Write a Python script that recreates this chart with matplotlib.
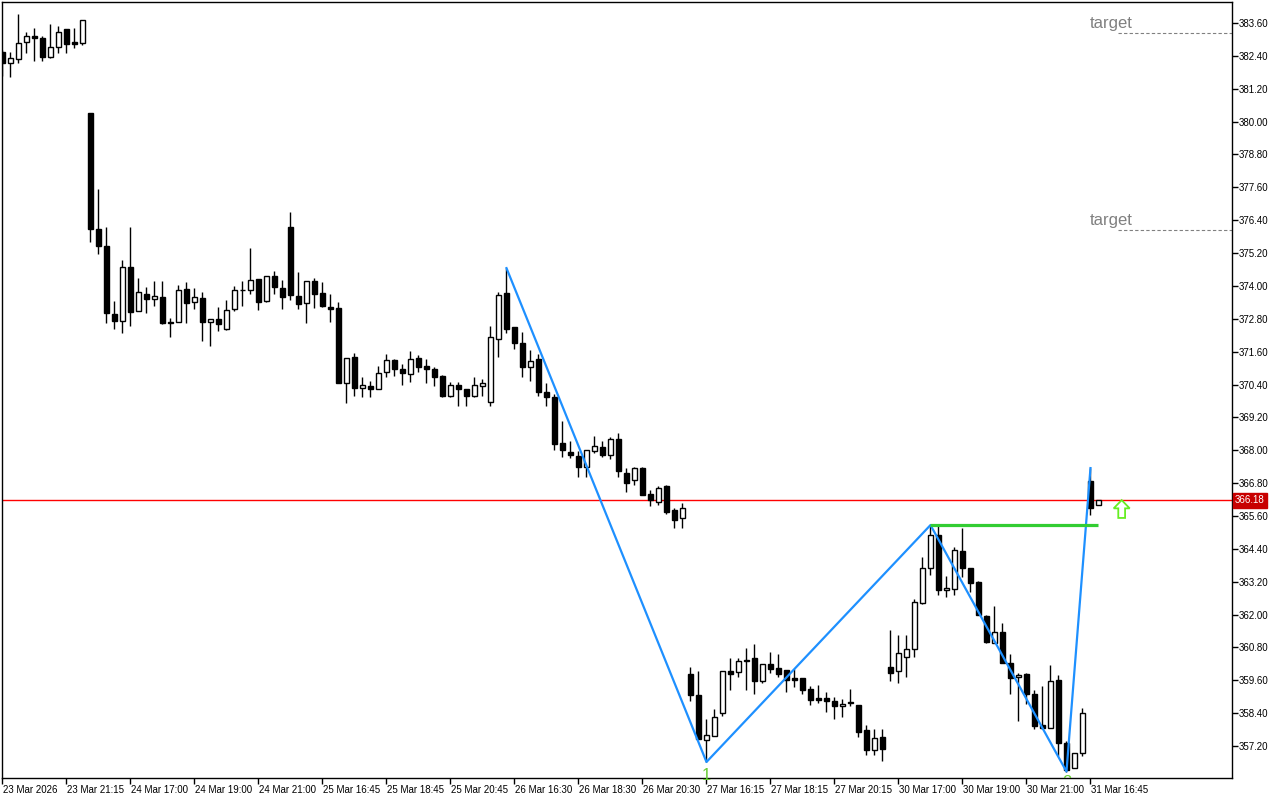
import matplotlib
matplotlib.use("Agg")
import matplotlib.pyplot as plt
import matplotlib.transforms as mtransforms
from matplotlib.patches import FancyArrow

# ---------------------------------------------------------------------------
# Datos (velas M15)
# ---------------------------------------------------------------------------
opens = [
    382.55, 382.13, 382.28, 382.92, 383.13, 383.04, 382.35, 382.71, 383.37, 382.91,
    382.88, 380.33, 376.07, 375.47, 372.98, 372.73, 374.70, 373.08, 373.71, 373.51,
    373.59, 372.70, 372.68, 373.88, 373.41, 373.55, 372.68, 372.79, 372.42, 373.15,
    373.86, 373.84, 374.26, 373.44, 374.35, 373.92, 376.14, 373.62, 373.37, 374.17,
    373.73, 373.22, 373.19, 370.45, 371.40, 370.29, 370.35, 370.23, 370.85, 371.30,
    370.96, 370.78, 371.36, 371.07, 370.96, 370.72, 369.99, 370.38, 370.23, 369.99,
    370.34, 369.78, 372.05, 373.73, 372.49, 371.91, 371.03, 371.32, 370.12, 369.94,
    368.26, 367.93, 367.78, 367.38, 367.97, 368.11, 367.82, 368.40, 367.16, 366.91,
    367.34, 366.40, 366.10, 366.69, 365.81, 365.51, 359.85, 359.07, 357.42, 357.56,
    358.40, 359.94, 359.90, 360.35, 360.41, 359.56, 360.19, 360.05, 359.97, 359.67,
    359.68, 359.28, 358.96, 358.96, 358.85, 358.65, 358.81, 358.70, 357.80, 357.04,
    357.53, 360.10, 359.94, 360.47, 360.74, 362.42, 363.70, 364.90, 362.90, 362.93,
    364.33, 363.70, 363.19, 361.96, 360.96, 361.35, 360.23, 359.74, 359.82, 359.10,
    357.98, 357.86, 359.62, 357.33, 356.39, 356.94, 366.89, 365.99,
]
highs = [
    382.60, 382.55, 383.93, 383.26, 383.41, 383.13, 383.56, 383.49, 383.37, 383.41,
    383.70, 380.33, 377.53, 376.16, 373.45, 374.95, 376.16, 374.28, 373.95, 374.18,
    374.18, 372.82, 374.03, 374.14, 373.92, 373.77, 372.79, 373.22, 373.49, 373.99,
    374.18, 375.40, 374.26, 374.35, 374.54, 374.21, 376.69, 374.50, 374.17, 374.28,
    374.14, 373.70, 373.41, 371.36, 371.54, 370.67, 370.52, 371.07, 371.51, 371.34,
    371.14, 371.63, 371.48, 371.32, 371.03, 370.74, 370.49, 370.49, 370.23, 370.67,
    370.60, 372.54, 373.77, 374.65, 372.49, 372.31, 371.65, 371.51, 370.45, 370.05,
    369.08, 368.35, 367.96, 368.00, 368.53, 368.33, 368.50, 368.63, 367.34, 367.38,
    367.38, 366.55, 366.68, 366.73, 365.89, 366.07, 360.07, 359.95, 358.19, 358.55,
    359.94, 360.41, 360.41, 360.78, 360.92, 360.19, 360.65, 360.56, 359.97, 360.03,
    359.68, 359.38, 359.44, 359.19, 359.01, 358.91, 359.28, 358.70, 357.98, 357.83,
    357.83, 361.44, 361.26, 361.26, 362.56, 364.10, 365.27, 365.22, 363.42, 364.46,
    365.16, 363.70, 363.24, 362.00, 362.30, 361.71, 360.56, 359.86, 359.86, 359.25,
    359.38, 360.17, 359.80, 357.37, 356.94, 358.59, 367.35, 366.18,
]
lows = [
    381.67, 381.64, 382.15, 382.52, 382.22, 382.22, 382.31, 382.52, 382.52, 382.70,
    382.80, 375.62, 375.17, 372.66, 372.43, 372.30, 372.55, 373.08, 373.00, 373.28,
    372.60, 372.15, 372.68, 372.64, 373.16, 372.00, 371.79, 372.37, 372.39, 373.08,
    373.28, 373.70, 373.12, 373.41, 373.72, 373.15, 373.48, 373.17, 372.64, 373.19,
    373.22, 372.68, 370.45, 369.72, 369.99, 369.96, 369.96, 370.23, 370.67, 370.70,
    370.40, 370.51, 370.84, 370.47, 370.35, 369.96, 369.96, 369.60, 369.60, 369.96,
    369.99, 369.60, 371.42, 372.30, 371.69, 370.69, 370.54, 369.99, 369.60, 368.00,
    367.75, 367.71, 367.04, 367.02, 367.89, 367.75, 367.70, 367.02, 366.49, 366.75,
    366.35, 365.98, 366.02, 365.69, 365.18, 365.18, 358.83, 357.46, 356.62, 357.56,
    358.29, 359.25, 359.72, 359.23, 359.10, 359.52, 359.86, 359.74, 359.19, 359.34,
    359.10, 358.71, 358.77, 358.43, 358.19, 358.28, 358.65, 357.55, 356.89, 356.89,
    356.64, 359.56, 359.50, 359.72, 360.45, 362.38, 363.43, 362.72, 362.64, 362.70,
    363.37, 362.83, 362.00, 360.96, 360.96, 360.23, 359.10, 358.12, 358.73, 357.83,
    357.83, 357.86, 356.82, 356.27, 356.39, 356.82, 365.64, 365.99,
]
closes = [
    382.13, 382.31, 382.86, 383.13, 383.06, 382.35, 382.71, 383.26, 382.82, 382.84,
    383.70, 376.07, 375.47, 373.00, 372.73, 374.70, 373.04, 373.77, 373.51, 373.62,
    372.64, 372.64, 373.84, 373.37, 373.59, 372.70, 372.79, 372.60, 373.11, 373.84,
    373.84, 374.21, 373.41, 374.35, 373.95, 373.59, 373.66, 373.33, 374.17, 373.70,
    373.26, 373.17, 370.45, 371.36, 370.29, 370.39, 370.25, 370.81, 371.29, 370.96,
    370.81, 371.35, 371.05, 370.96, 370.69, 369.99, 370.38, 370.25, 369.99, 370.38,
    370.45, 372.13, 373.67, 372.43, 371.91, 371.03, 371.25, 370.14, 369.94, 368.22,
    368.00, 367.82, 367.38, 368.00, 368.15, 367.82, 368.40, 367.24, 366.82, 367.34,
    366.35, 366.18, 366.62, 365.76, 365.47, 365.89, 359.05, 357.46, 357.60, 358.26,
    359.94, 359.85, 360.30, 360.30, 359.59, 360.19, 360.01, 359.85, 359.62, 359.62,
    359.25, 358.89, 358.88, 358.83, 358.65, 358.74, 358.77, 357.71, 357.04, 357.50,
    357.09, 359.86, 360.59, 360.74, 362.46, 363.70, 364.90, 362.90, 362.97, 364.36,
    363.70, 363.17, 362.00, 361.00, 361.35, 360.23, 359.68, 359.81, 359.10, 357.95,
    357.86, 359.58, 357.33, 356.33, 356.94, 358.40, 365.89, 366.18,
]

time_labels = [
    "23 Mar 2026", "23 Mar 21:15", "24 Mar 17:00", "24 Mar 19:00", "24 Mar 21:00",
    "25 Mar 16:45", "25 Mar 18:45", "25 Mar 20:45", "26 Mar 16:30", "26 Mar 18:30",
    "26 Mar 20:30", "27 Mar 16:15", "27 Mar 18:15", "27 Mar 20:15", "30 Mar 17:00",
    "30 Mar 19:00", "30 Mar 21:00", "31 Mar 16:45",
]
price_ticks = [383.60, 382.40, 381.20, 380.00, 378.80, 377.60, 376.40, 375.20,
               374.00, 372.80, 371.60, 370.40, 369.20, 368.00, 366.80, 365.60,
               364.40, 363.20, 362.00, 360.80, 359.60, 358.40, 357.20]

# ZigZag (índice de vela, precio)
zigzag_idx = [63, 88, 116, 133, 136]
zigzag_px = [374.65, 356.62, 365.27, 356.27, 367.35]
pivot_labels = ["1", "2"]
pivot_idx = [88, 133]

level_px = 365.27          # ruptura (línea verde)
level_from, level_to = 116, 137
last_price = 366.18
target_px = [383.23, 376.04]
signal_idx = 139.9
signal_low = 365.53

# ---------------------------------------------------------------------------
# Figura
# ---------------------------------------------------------------------------
plt.rcParams["font.family"] = ["Liberation Sans", "DejaVu Sans"]
fig = plt.figure(figsize=(12.8, 8), dpi=100)
ax = fig.add_axes([2 / 1280, 22 / 800, 1230 / 1280, 776 / 800])

n = len(opens)
xs = list(range(n))

# mechas
ax.vlines(xs, lows, highs, color="black", linewidth=1, zorder=2)
# cuerpos
bottoms = [min(o, c) for o, c in zip(opens, closes)]
heights = [max(abs(c - o), 0.02) for o, c in zip(opens, closes)]
faces = ["white" if c >= o else "black" for o, c in zip(opens, closes)]
ax.bar(xs, heights, bottom=bottoms, width=0.6, color=faces,
       edgecolor="black", linewidth=1, zorder=3)

# precio actual
ax.axhline(last_price, color="#ff0000", linewidth=1, zorder=1)
trans = mtransforms.blended_transform_factory(ax.transAxes, ax.transData)
ax.text(1.0025, last_price, "366.18", transform=trans, ha="left", va="center",
        fontsize=7, color="white", zorder=6, clip_on=False,
        bbox=dict(boxstyle="square,pad=0.25", fc="#c80000", ec="#c80000"))

# zigzag
ax.plot(zigzag_idx, zigzag_px, color="#1e90ff", linewidth=1.6, zorder=4)

# nivel verde
ax.hlines(level_px, level_from, level_to, color="#32cd32", linewidth=2.3, zorder=4)

# etiquetas de pivotes
ax.text(pivot_idx[0], 356.40, pivot_labels[0], ha="center", va="top",
        fontsize=12, color="#66cc33", zorder=5)
ax.text(pivot_idx[1], 356.13, pivot_labels[1], ha="center", va="top",
        fontsize=12, color="#66cc33", zorder=5, clip_on=True)

# flecha de señal (hueca)
ax.add_patch(FancyArrow(signal_idx, signal_low, 0, last_price - signal_low,
                        width=0.85, head_width=2.0, head_length=0.30,
                        length_includes_head=True, facecolor="white",
                        edgecolor="#66ee22", linewidth=1.3, zorder=5))

# objetivos
for tp in target_px:
    ax.hlines(tp, 139.4, 153.7, color="#808080", linewidth=0.8,
              linestyles=(0, (3, 2)), zorder=1)
    ax.text(135.9, tp + 0.08, "target", ha="left", va="bottom",
            fontsize=12, color="#808080", zorder=5)

# ejes
ax.set_xlim(-0.0625, 153.69)
ax.set_ylim(356.035, 384.367)
ax.set_xticks(xs[::8])
ax.set_xticklabels(time_labels, ha="left", fontsize=7)
ax.set_yticks(price_ticks)
ax.set_yticklabels([f"{p:.2f}" for p in price_ticks], fontsize=7)
ax.yaxis.tick_right()
ax.tick_params(axis="y", direction="out", length=4, width=1, pad=1)
ax.tick_params(axis="x", direction="out", length=4, width=1, pad=1)
offset = mtransforms.ScaledTranslation(1 / 100, 0, fig.dpi_scale_trans)
for lab in ax.get_xticklabels():
    lab.set_transform(lab.get_transform() + offset)
for s in ax.spines.values():
    s.set_color("black")
    s.set_linewidth(1)

fig.savefig("out.png", dpi=100)
print("Guardado: out.png")
